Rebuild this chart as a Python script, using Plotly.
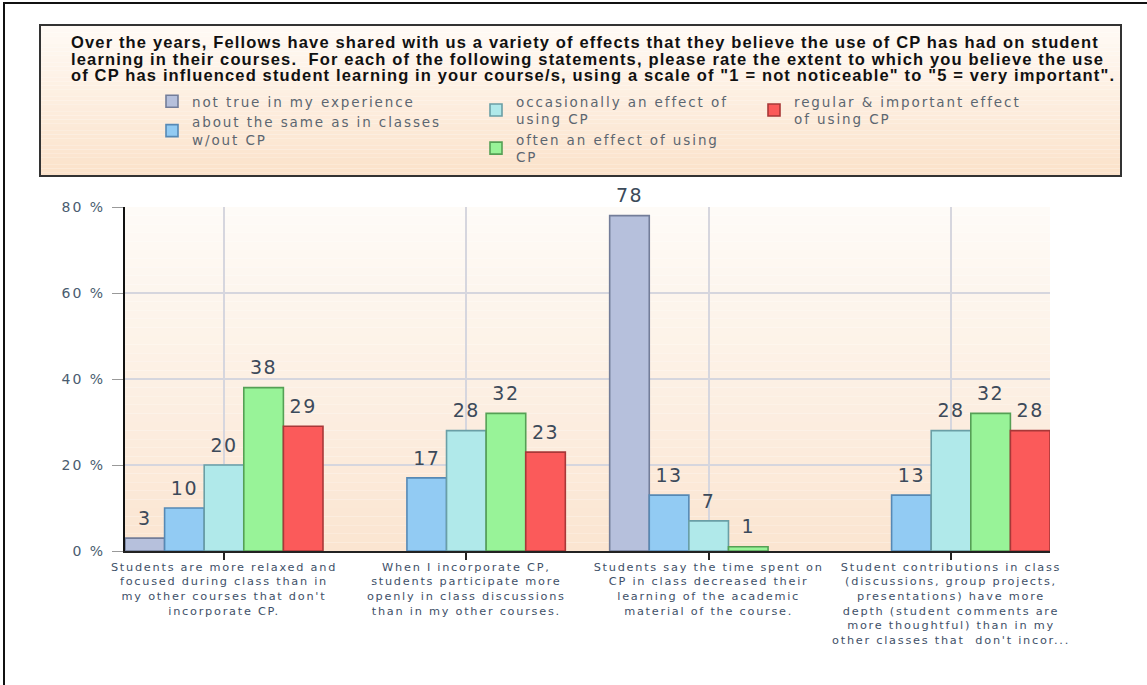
import plotly.graph_objects as go

# ---------------- data ----------------
category_lines = [
    ["Students are more relaxed and", "focused during class than in",
     "my other courses that don't", "incorporate CP."],
    ["When I incorporate CP,", "students participate more",
     "openly in class discussions", "than in my other courses."],
    ["Students say the time spent on", "CP in class decreased their",
     "learning of the academic", "material of the course."],
    ["Student contributions in class", "(discussions, group projects,",
     "presentations) have more", "depth (student comments are",
     "more thoughtful) than in my", "other classes that  don't incor..."],
]
categories = [" ".join(lines) for lines in category_lines]

legend_lines = [
    ["not true in my experience"],
    ["about the same as in classes", "w/out CP"],
    ["occasionally an effect of", "using CP"],
    ["often an effect of using", "CP"],
    ["regular & important effect", "of using CP"],
]

not_true = [3, 0, 78, 0]
about_same = [10, 17, 13, 13]
occasionally = [20, 28, 7, 28]
often = [38, 32, 1, 32]
regular = [29, 23, 0, 28]

y_ticks = [0, 20, 40, 60, 80]

title_lines = [
    "Over the years, Fellows have shared with us a variety of effects that they believe the use of CP has had on student",
    "learning in their courses.&nbsp; For each of the following statements, please rate the extent to which you believe the use",
    "of CP has influenced student learning in your course/s, using a scale of \"1 = not noticeable\" to \"5 = very important\".",
]

# ---------------- styling ----------------
fills = ["#b6c0dc", "#92cbf3", "#b0e9ea", "#98f398", "#fb5a5a"]
edges = ["#737d99", "#5689b5", "#6a9fa6", "#55a055", "#a83838"]
legend_ids = ["legend", "legend", "legend2", "legend2", "legend3"]

W, H = 1147, 685
M_L, M_R, M_T, M_B = 125, 97, 207, 134
PW, PH = W - M_L - M_R, H - M_T - M_B
BAR_GAP = 0.183
HALF = (1 - BAR_GAP) / 2


def px(x):
    return (x - M_L) / PW


def py(y):
    return (M_T + PH - y) / PH


def spaced(text, ls):
    return f'<span style="letter-spacing:{ls}px">{text}</span>'


def mix(c1, c2, t):
    a = [int(c1[i:i + 2], 16) for i in (1, 3, 5)]
    b = [int(c2[i:i + 2], 16) for i in (1, 3, 5)]
    return "rgb(%d,%d,%d)" % tuple(round(a[k] + (b[k] - a[k]) * t) for k in range(3))


fig = go.Figure()

series = [not_true, about_same, occasionally, often, regular]
for k, (vals, lines, fill, edge, leg) in enumerate(zip(series, legend_lines, fills, edges, legend_ids)):
    fig.add_trace(go.Bar(
        x=categories,
        y=[v if v else None for v in vals],
        name="<br>".join(spaced(l, 1.9) for l in lines),
        marker=dict(color=fill, line=dict(color=edge, width=1.6)),
        offsetgroup=str(k),
        legend=leg,
        hoverinfo="skip",
    ))

# value labels, grouped the same way as the bars
for k, vals in enumerate(series):
    fig.add_trace(go.Scatter(
        x=categories,
        y=[v if v else None for v in vals],
        mode="markers+text",
        text=[spaced(str(v), 1.5) if v else "" for v in vals],
        textposition="top center",
        textfont=dict(family="DejaVu Sans", size=19, color="#3c4a5a"),
        marker=dict(size=12, opacity=0),
        offsetgroup=str(k),
        showlegend=False,
        cliponaxis=False,
        hoverinfo="skip",
    ))

shapes = []
# plot-area gradient
N = 40
for i in range(N):
    shapes.append(dict(
        type="rect", xref="paper", yref="paper", x0=0, x1=1,
        y0=i / N, y1=(i + 1) / N, layer="below", line=dict(width=0),
        fillcolor=mix("#fbe5d1", "#fefbf7", i / (N - 1)),
    ))
# header box gradient
bx0, bx1, by0, by1 = 40, 1121, 25, 176
for i in range(N):
    top = by0 + (by1 - by0) * i / N
    bot = by0 + (by1 - by0) * (i + 1) / N
    shapes.append(dict(
        type="rect", xref="paper", yref="paper", x0=px(bx0), x1=px(bx1),
        y0=py(bot), y1=py(top), layer="below", line=dict(width=0),
        fillcolor=mix("#fffaf5", "#fbe2ca", i / (N - 1)),
    ))
shapes.append(dict(type="rect", xref="paper", yref="paper",
                   x0=px(bx0), x1=px(bx1), y0=py(by1), y1=py(by0),
                   line=dict(color="#333333", width=2), fillcolor="rgba(0,0,0,0)"))
# outer frame: left and top edges as one open path
shapes.append(dict(
    type="path", xref="paper", yref="paper",
    path=f"M{px(4)},{py(H + 2)} L{px(4)},{py(3)} L{px(W + 2)},{py(3)}",
    line=dict(color="#111111", width=2), fillcolor="rgba(0,0,0,0)",
))

annotations = []
for line, yc in zip(title_lines, [42, 58.5, 75]):
    annotations.append(dict(
        text=spaced(line, 1.15), xref="paper", yref="paper",
        x=px(69), y=py(yc), xanchor="left", yanchor="middle", showarrow=False,
        font=dict(family="Liberation Sans", size=16.5, color="#111111", weight="bold"),
    ))

legend_common = dict(
    font=dict(family="DejaVu Sans", size=13.5, color="#5c6670"),
    bgcolor="rgba(0,0,0,0)", orientation="v", xanchor="left", yanchor="top",
    itemclick=False, itemdoubleclick=False, tracegroupgap=0,
)

fig.update_layout(
    width=W, height=H,
    margin=dict(l=M_L, r=M_R, t=M_T, b=M_B, pad=0),
    paper_bgcolor="white", plot_bgcolor="rgba(0,0,0,0)",
    barmode="group", bargap=BAR_GAP, bargroupgap=0,
    scattermode="group", scattergap=BAR_GAP,
    hovermode=False,
    shapes=shapes, annotations=annotations,
    legend=dict(x=px(152), y=py(86), **legend_common),
    legend2=dict(x=px(476), y=py(86), **legend_common),
    legend3=dict(x=px(754), y=py(86), **legend_common),
    xaxis=dict(
        type="category", range=[-HALF, len(categories) - 1 + HALF],
        tickvals=categories,
        ticktext=["<br>".join(spaced(l, 1.75) for l in lines) for lines in category_lines],
        tickfont=dict(family="DejaVu Sans", size=11.3, color="#3e5068"),
        tickangle=0,
        showgrid=True, gridcolor="#d6d6de", gridwidth=1.5,
        showline=True, linecolor="#222222", linewidth=2,
        ticks="outside", ticklen=7, tickwidth=2, tickcolor="#222222",
        ticklabelstandoff=-3,
        zeroline=False,
    ),
    yaxis=dict(
        range=[0, 80], tickvals=y_ticks,
        ticktext=[spaced(f"{v} %", 2) for v in y_ticks],
        tickfont=dict(family="DejaVu Sans", size=14, color="#4a5c70"),
        showgrid=True, gridcolor="#d6d6de", gridwidth=1.5,
        showline=True, linecolor="#111111", linewidth=2,
        ticks="outside", ticklen=11, tickwidth=1, tickcolor="#999999",
        ticklabelstandoff=4,
        zeroline=False,
    ),
)

fig.write_html("out.html")
